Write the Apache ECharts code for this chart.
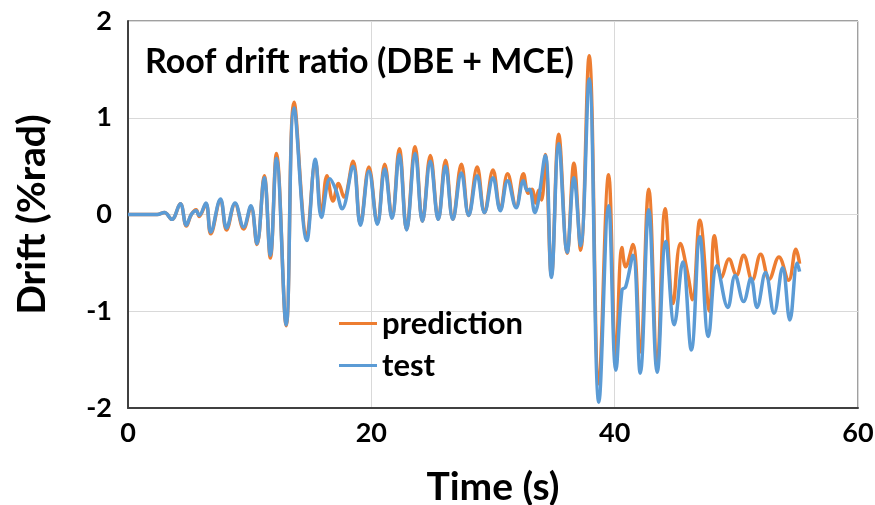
<!DOCTYPE html>
<html><head><meta charset="utf-8">
<script src="https://cdn.jsdelivr.net/npm/echarts@6/dist/echarts.min.js"></script>
<style>html,body{margin:0;padding:0;background:#fff;overflow:hidden}#c{width:875px;height:505px}</style>
</head><body><div id="c"></div>
<script>
// Test (blue) series: times (s) and drift (%rad) read at peaks/troughs
const testTime = [0,2.4,3.0,3.6,4.3,4.8,5.2,5.6,5.85,6.4,6.8,7.6,8.1,8.8,9.5,10.1,10.6,11.2,11.7,12.2,13.0,13.65,14.7,15.4,15.9,16.6,17.1,17.6,18.5,19.1,19.8,20.5,21.1,21.7,22.3,22.9,23.6,24.2,24.85,25.5,26.1,26.7,27.4,28.0,28.7,29.3,30.0,30.6,31.2,31.9,32.5,32.8,33.0,33.45,33.7,34.3,34.8,35.4,36.1,36.65,37.2,37.9,38.7,39.5,40.1,40.6,40.9,41.5,42.1,42.8,43.5,44.2,44.9,45.6,46.3,47.0,47.7,48.4,49.3,49.9,50.6,51.2,51.7,52.4,53.1,53.8,54.4,55.0,55.2];
const testDrift = [0,0,0.02,-0.05,0.11,-0.11,0.0,0.04,-0.01,0.12,-0.18,0.16,-0.14,0.12,-0.13,0.09,-0.30,0.38,-0.42,0.58,-1.14,1.10,-0.27,0.57,-0.03,0.37,0.25,0.06,0.50,-0.11,0.45,-0.10,0.47,-0.04,0.62,-0.16,0.63,-0.07,0.55,-0.05,0.50,-0.05,0.43,-0.01,0.40,0.02,0.38,0.04,0.35,0.07,0.35,0.25,0.26,0.02,0.12,0.61,-0.65,0.73,-0.39,0.38,-0.32,1.40,-1.94,0.09,-1.61,-0.78,-0.75,-0.42,-1.64,0.05,-1.63,-0.28,-1.14,-0.49,-1.40,-0.23,-1.26,-0.53,-0.96,-0.63,-0.90,-0.66,-0.96,-0.60,-1.02,-0.55,-1.09,-0.50,-0.59];
// Prediction (orange) series
const predTime = [0,2.4,3.0,3.6,4.3,4.8,5.2,5.6,5.85,6.4,6.8,7.6,8.1,8.8,9.5,10.1,10.6,11.2,11.7,12.2,13.0,13.65,14.7,15.4,15.9,16.35,16.85,17.3,17.75,18.5,19.1,19.8,20.5,21.1,21.7,22.3,22.9,23.6,24.2,24.85,25.5,26.1,26.7,27.4,28.0,28.7,29.3,30.0,30.6,31.2,31.9,32.5,32.9,33.2,33.5,33.75,34.0,34.3,34.8,35.4,36.1,36.65,37.2,37.9,38.7,39.5,40.1,40.6,40.9,41.5,42.1,42.8,43.5,44.15,44.8,45.4,46.0,46.4,47.0,47.8,48.2,48.8,49.4,50.0,50.6,51.3,52.0,52.7,53.5,54.3,54.9,55.2];
const predDrift = [0,0,0.02,-0.05,0.11,-0.12,0.0,0.05,-0.02,0.11,-0.20,0.15,-0.16,0.11,-0.15,0.08,-0.31,0.40,-0.45,0.63,-1.15,1.16,-0.22,0.55,0.0,0.40,0.14,0.32,0.18,0.55,-0.10,0.49,-0.09,0.52,-0.03,0.68,-0.15,0.70,-0.07,0.61,-0.05,0.56,-0.05,0.52,-0.01,0.49,0.02,0.46,0.05,0.42,0.08,0.42,0.22,0.26,0.12,0.25,0.15,0.62,-0.63,0.83,-0.40,0.53,-0.37,1.64,-1.75,0.41,-1.51,-0.34,-0.54,-0.31,-1.42,0.26,-1.54,0.06,-0.92,-0.30,-0.61,-0.88,-0.06,-1.00,-0.22,-0.65,-0.46,-0.63,-0.42,-0.68,-0.41,-0.67,-0.44,-0.68,-0.36,-0.51];
const xTicks = [0,20,40,60];
const yTicks = [-2,-1,0,1,2];

const F = 'Lato, "Open Sans", sans-serif';
const pair = (t, v) => t.map((x, i) => [x, v[i]]);
const chart = echarts.init(document.getElementById('c'), null, {renderer: 'canvas', width: 875, height: 505});
chart.setOption({
  animation: false,
  backgroundColor: '#fff',
  title: {
    text: 'Roof drift ratio (DBE + MCE)', left: 140, top: 40,
    textStyle: {fontFamily: F, fontWeight: 'bold', fontSize: 34, color: '#000'}
  },
  legend: {
    orient: 'vertical', left: 334, top: 303, itemGap: 11,
    itemWidth: 38, itemHeight: 3, icon: 'rect',
    textStyle: {fontFamily: F, fontWeight: 'bold', fontSize: 31, color: '#000'},
    data: ['prediction', 'test']
  },
  grid: {left: 128, right: 17, top: 21, bottom: 97, containLabel: false, outerBoundsMode: 'none',
         show: true, borderColor: '#404040', borderWidth: 1},
  xAxis: {
    type: 'value', min: xTicks[0], max: xTicks[xTicks.length - 1], interval: 20,
    name: 'Time (s)', nameLocation: 'middle', nameGap: 60,
    nameTextStyle: {fontFamily: F, fontWeight: 'bold', fontSize: 39, color: '#000'},
    axisLine: {onZero: false, lineStyle: {color: '#404040', width: 2}},
    axisTick: {show: false},
    axisLabel: {fontFamily: F, fontWeight: 'bold', fontSize: 27, color: '#000', margin: 12},
    splitLine: {lineStyle: {color: '#d9d9d9', width: 1}}
  },
  yAxis: {
    type: 'value', min: yTicks[0], max: yTicks[yTicks.length - 1], interval: 1,
    name: 'Drift (%rad)', nameLocation: 'middle', nameGap: 76, nameRotate: 90,
    nameTextStyle: {fontFamily: F, fontWeight: 'bold', fontSize: 39, color: '#000'},
    axisLine: {show: true, onZero: false, lineStyle: {color: '#404040', width: 2}},
    axisTick: {show: false},
    axisLabel: {fontFamily: F, fontWeight: 'bold', fontSize: 27, color: '#000', margin: 16},
    splitLine: {lineStyle: {color: '#d9d9d9', width: 1}}
  },
  series: [
    {name: 'prediction', type: 'line', data: pair(predTime, predDrift), smooth: 0.4,
     showSymbol: false, lineStyle: {color: '#ED7D31', width: 3.5}, itemStyle: {color: '#ED7D31'}},
    {name: 'test', type: 'line', data: pair(testTime, testDrift), smooth: 0.4,
     showSymbol: false, lineStyle: {color: '#5B9BD5', width: 3.5}, itemStyle: {color: '#5B9BD5'}}
  ]
});
</script></body></html>
